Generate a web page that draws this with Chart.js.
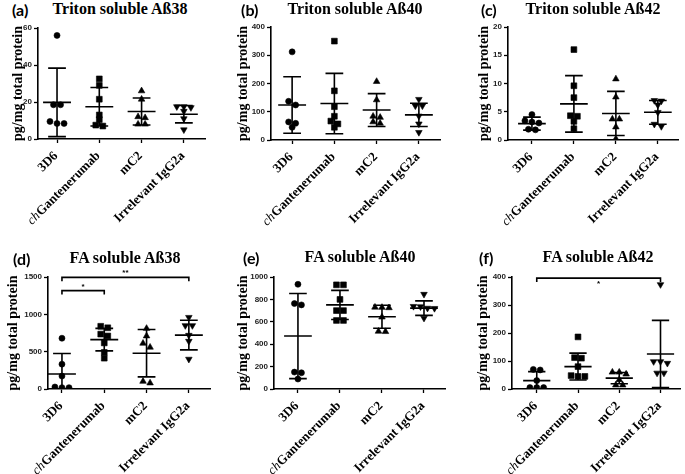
<!DOCTYPE html>
<html>
<head>
<meta charset="utf-8">
<script src="https://cdn.jsdelivr.net/npm/chart.js@4/dist/chart.umd.min.js"></script>
<style>
  html, body { margin: 0; padding: 0; background: #fff; }
  body { width: 685px; height: 474px; position: relative; overflow: hidden; }
  canvas { position: absolute; left: 0; top: 0; }
  .letter { position: absolute; font: bold 16px Lato, "Liberation Sans", sans-serif; color: #000; transform: translateY(-50%); white-space: nowrap; }
  .title { position: absolute; font: bold 16px "Liberation Serif", serif; color: #000; transform: translate(-50%, -50%); white-space: nowrap; }
</style>
</head>
<body>
<script>
// ---------------- DATA ----------------
const categories = ["3D6", "chGantenerumab", "mC2", "Irrelevant IgG2a"];
const italicPrefix = ["", "ch", "", ""];
const panelLetters = ["(a)", "(b)", "(c)", "(d)", "(e)", "(f)"];
const panelTitles = ["Triton soluble A\u00df38", "Triton soluble A\u00df40", "Triton soluble A\u00df42",
                     "FA soluble A\u00df38", "FA soluble A\u00df40", "FA soluble A\u00df42"];
const yAxisTitle = "pg/mg total protein";
const yMax  = [60, 400, 20, 1500, 1000, 400];
const yStep = [20, 100, 5, 500, 200, 100];

const tritonAb38     = [[56, 18.5, 18.5, 9.5, 8.4, 8.4], [32.5, 29, 21.5, 13, 10.5, 7.5, 7], [26, 21.5, 12, 11.5, 8, 8], [17.5, 17.5, 17, 15, 11, 5]];
const tritonAb38Mean = [19.8, 17.4, 14.9, 13.4];
const tritonAb38SD   = [18.5, 10.4, 7.3, 4.7];

const tritonAb40     = [[312, 137, 124, 64, 59, 45], [350, 174, 118, 84, 67, 57, 45], [207, 142, 84, 80, 64, 59], [144, 121, 121, 85, 57, 27]];
const tritonAb40Mean = [124, 129, 106, 89];
const tritonAb40SD   = [100, 107, 58, 41];

const tritonAb42     = [[4.5, 3.4, 3.2, 3.0, 1.9, 1.8], [16, 9.6, 7.5, 4.3, 4.2, 3.3, 2.0], [10.8, 7.6, 3.7, 3.7, 2.3, 0.2], [7.0, 6.9, 6.2, 4.9, 2.8, 2.4]];
const tritonAb42Mean = [2.9, 6.4, 4.7, 4.9];
const tritonAb42SD   = [1.15, 5.0, 3.9, 2.1];

const faAb38     = [[680, 333, 173, 27, 18, 18], [840, 820, 735, 710, 617, 490, 413], [811, 710, 612, 559, 102, 80], [960, 850, 850, 720, 640, 400]];
const faAb38Mean = [200, 661, 479, 722];
const faAb38SD   = [275, 151, 317, 198];
const faAb38Sig  = [[0, 3, 1495, "**"], [0, 1, 1318, "*"]];

const faAb40     = [[935, 763, 751, 151, 145, 89], [930, 930, 800, 700, 700, 612, 612], [730, 728, 725, 642, 515, 512], [846, 738, 735, 722, 720, 633]];
const faAb40Mean = [473, 751, 645, 722];
const faAb40SD   = [380, 130, 103, 65];

const faAb42     = [[70, 68, 30, 5, 5, 5], [186, 112, 110, 80, 48, 45, 45], [60, 60, 53, 33, 14, 14], [373, 98, 98, 92, 57, 57]];
const faAb42Mean = [30, 80, 39, 125];
const faAb42SD   = [32, 48, 20, 120];
const faAb42Sig  = [[0, 3, 396, "*"]];

// ---------------- LAYOUT / STYLE ----------------
const W = 685, H = 474;
const layouts = [
  {left: 38,  right: 205, top: 28,  bottom: 139, xMin: -0.45, xMax: 3.5,  yTitleX: 18,  letterX: 12,  titleX: 120, headY: 9,   sigDy: []},
  {left: 271, right: 440, top: 27,  bottom: 140, xMin: -0.5,  xMax: 3.5,  yTitleX: 243, letterX: 241, titleX: 355, headY: 9,   sigDy: []},
  {left: 508, right: 678, top: 27,  bottom: 140, xMin: -0.57, xMax: 3.48, yTitleX: 484, letterX: 481, titleX: 593, headY: 9,   sigDy: []},
  {left: 48,  right: 210, top: 277, bottom: 389, xMin: -0.33, xMax: 3.5,  yTitleX: 13,  letterX: 13,  titleX: 125, headY: 258, sigDy: [-5, -4]},
  {left: 274, right: 445, top: 277, bottom: 389, xMin: -0.57, xMax: 3.5,  yTitleX: 243, letterX: 243, titleX: 360, headY: 257, sigDy: []},
  {left: 512, right: 683, top: 277, bottom: 389, xMin: -0.6,  xMax: 3.48, yTitleX: 483, letterX: 479, titleX: 598, headY: 257, sigDy: [6]}
];
const panels = [
  {pts: tritonAb38, mean: tritonAb38Mean, sd: tritonAb38SD, sig: []},
  {pts: tritonAb40, mean: tritonAb40Mean, sd: tritonAb40SD, sig: []},
  {pts: tritonAb42, mean: tritonAb42Mean, sd: tritonAb42SD, sig: []},
  {pts: faAb38, mean: faAb38Mean, sd: faAb38SD, sig: faAb38Sig},
  {pts: faAb40, mean: faAb40Mean, sd: faAb40SD, sig: []},
  {pts: faAb42, mean: faAb42Mean, sd: faAb42SD, sig: faAb42Sig}
];
const pointStyles = ['circle', 'rect', 'triangle', 'triangle'];
const pointRot    = [0, 0, 0, 180];
const pointRad    = [3.0, 4.1, 3.8, 3.8];
const MEAN_HALF = 0.33, CAP_HALF = 0.21;
const SPREAD_PX = 7, ROW_PX = 4.2, PX_PER_CAT = 42;

function swarmOffsets(vals, ppu) {
  const idx = vals.map((v, i) => i).sort((a, b) => vals[b] - vals[a]);
  const off = new Array(vals.length).fill(0);
  let row = [], rowTop = null;
  const flush = () => row.forEach((k, j) => { off[k] = (j - (row.length - 1) / 2) * SPREAD_PX / PX_PER_CAT; });
  idx.forEach(k => {
    if (rowTop === null || (rowTop - vals[k]) * ppu > ROW_PX) { flush(); row = []; rowTop = vals[k]; }
    row.push(k);
  });
  flush();
  return off;
}

const textPlugin = {
  id: 'panelText',
  afterDraw(chart, args, opts) {
    const ctx = chart.ctx, xs = chart.scales.x, ca = chart.chartArea;
    ctx.save();
    ctx.translate(opts.yTitleX, (ca.top + ca.bottom) / 2);
    ctx.rotate(-Math.PI / 2);
    ctx.fillStyle = '#000';
    ctx.font = 'bold 14px "Liberation Serif", serif';
    ctx.textAlign = 'center';
    ctx.textBaseline = 'middle';
    ctx.fillText(yAxisTitle, 0, 0);
    ctx.restore();
    const boldF = 'bold 13px "Liberation Serif", serif';
    const italF = 'italic 13px "Liberation Serif", serif';
    categories.forEach((c, i) => {
      const px = xs.getPixelForValue(i);
      const pre = italicPrefix[i];
      const main = pre ? c.slice(pre.length) : c;
      ctx.save();
      ctx.translate(px - 1, ca.bottom + 15);
      ctx.rotate(-Math.PI / 4);
      ctx.fillStyle = '#000';
      ctx.textAlign = 'right';
      ctx.textBaseline = 'middle';
      ctx.font = boldF;
      ctx.fillText(main, 0, 0);
      if (pre) {
        const w = ctx.measureText(main).width;
        ctx.font = italF;
        ctx.fillText(pre, -w - 0.5, 0);
      }
      ctx.restore();
    });
  }
};

const sigPlugin = {
  id: 'sig',
  afterDraw(chart, args, opts) {
    const list = opts.list || [];
    if (!list.length) return;
    const ctx = chart.ctx, xs = chart.scales.x, ys = chart.scales.y;
    list.forEach((s, k) => {
      const x0 = xs.getPixelForValue(s[0]), x1 = xs.getPixelForValue(s[1]), y = ys.getPixelForValue(s[2]);
      ctx.save();
      ctx.strokeStyle = '#000';
      ctx.lineWidth = 1.6;
      ctx.beginPath();
      ctx.moveTo(x0, y + 4); ctx.lineTo(x0, y); ctx.lineTo(x1, y); ctx.lineTo(x1, y + 4);
      ctx.stroke();
      ctx.fillStyle = '#000';
      ctx.font = 'bold 8px "Liberation Sans", sans-serif';
      ctx.textAlign = 'center';
      ctx.textBaseline = 'middle';
      ctx.fillText(s[3], (x0 + x1) / 2, y + (opts.dy[k] || -5));
      ctx.restore();
    });
  }
};

panels.forEach((p, pi) => {
  const L = layouts[pi];
  const lt = document.createElement('div');
  lt.className = 'letter'; lt.textContent = panelLetters[pi];
  lt.style.left = L.letterX + 'px'; lt.style.top = L.headY + 'px';
  document.body.appendChild(lt);
  const tt = document.createElement('div');
  tt.className = 'title'; tt.textContent = panelTitles[pi];
  tt.style.left = L.titleX + 'px'; tt.style.top = L.headY + 'px';
  document.body.appendChild(tt);

  const cv = document.createElement('canvas');
  cv.width = W; cv.height = H;
  document.body.appendChild(cv);

  const ppu = (L.bottom - L.top) / yMax[pi];
  const padLeft = L.yTitleX - 9;
  const yW = L.left - padLeft;
  const datasets = [];
  p.pts.forEach((vals, i) => {
    const m = p.mean[i], s = p.sd[i];
    datasets.push({
      data: [
        {x: i - MEAN_HALF, y: m}, {x: i + MEAN_HALF, y: m}, {x: i, y: null},
        {x: i, y: m - s}, {x: i, y: m + s}, {x: i, y: null},
        {x: i - CAP_HALF, y: m + s}, {x: i + CAP_HALF, y: m + s}, {x: i, y: null},
        {x: i - CAP_HALF, y: m - s}, {x: i + CAP_HALF, y: m - s}
      ],
      showLine: true, spanGaps: false, pointRadius: 0, borderColor: '#000', borderWidth: 1.6, order: 0
    });
  });
  p.pts.forEach((vals, i) => {
    const off = swarmOffsets(vals, ppu);
    datasets.push({
      data: vals.map((v, j) => ({x: i + off[j], y: v})),
      pointStyle: pointStyles[i], rotation: pointRot[i], pointRadius: pointRad[i],
      backgroundColor: '#000', borderColor: '#000', borderWidth: 0.6, showLine: false, order: 1
    });
  });

  new Chart(cv, {
    type: 'scatter',
    data: {datasets},
    options: {
      responsive: false, animation: false, devicePixelRatio: 1,
      layout: {padding: {left: padLeft, right: W - L.right, top: L.top, bottom: H - L.bottom}},
      plugins: {legend: {display: false}, tooltip: {enabled: false},
                sig: {list: p.sig, dy: L.sigDy}, panelText: {yTitleX: L.yTitleX}},
      scales: {
        x: {
          type: 'linear', min: L.xMin, max: L.xMax,
          afterBuildTicks: sc => { sc.ticks = categories.map((c, i) => ({value: i})); },
          afterFit: sc => { sc.height = 0; },
          ticks: {display: false},
          grid: {drawOnChartArea: false, drawTicks: true, tickLength: 4, tickColor: '#000', tickWidth: 1.3},
          border: {display: true, color: '#000', width: 1.6}
        },
        y: {
          min: 0, max: yMax[pi],
          afterBuildTicks: sc => { const t = []; for (let v = 0; v <= yMax[pi] + 1e-9; v += yStep[pi]) t.push({value: v}); sc.ticks = t; },
          afterFit: sc => { sc.width = yW; },
          ticks: {color: '#222', font: {family: '"Liberation Sans", sans-serif', size: 8, weight: 'bold'}, padding: 2,
                  callback: v => String(v)},
          grid: {drawOnChartArea: false, drawTicks: true, tickLength: 4, tickColor: '#000', tickWidth: 1.3},
          border: {display: true, color: '#000', width: 1.6},
          title: {display: false}
        }
      }
    },
    plugins: [textPlugin, sigPlugin]
  });
});
</script>
</body>
</html>
